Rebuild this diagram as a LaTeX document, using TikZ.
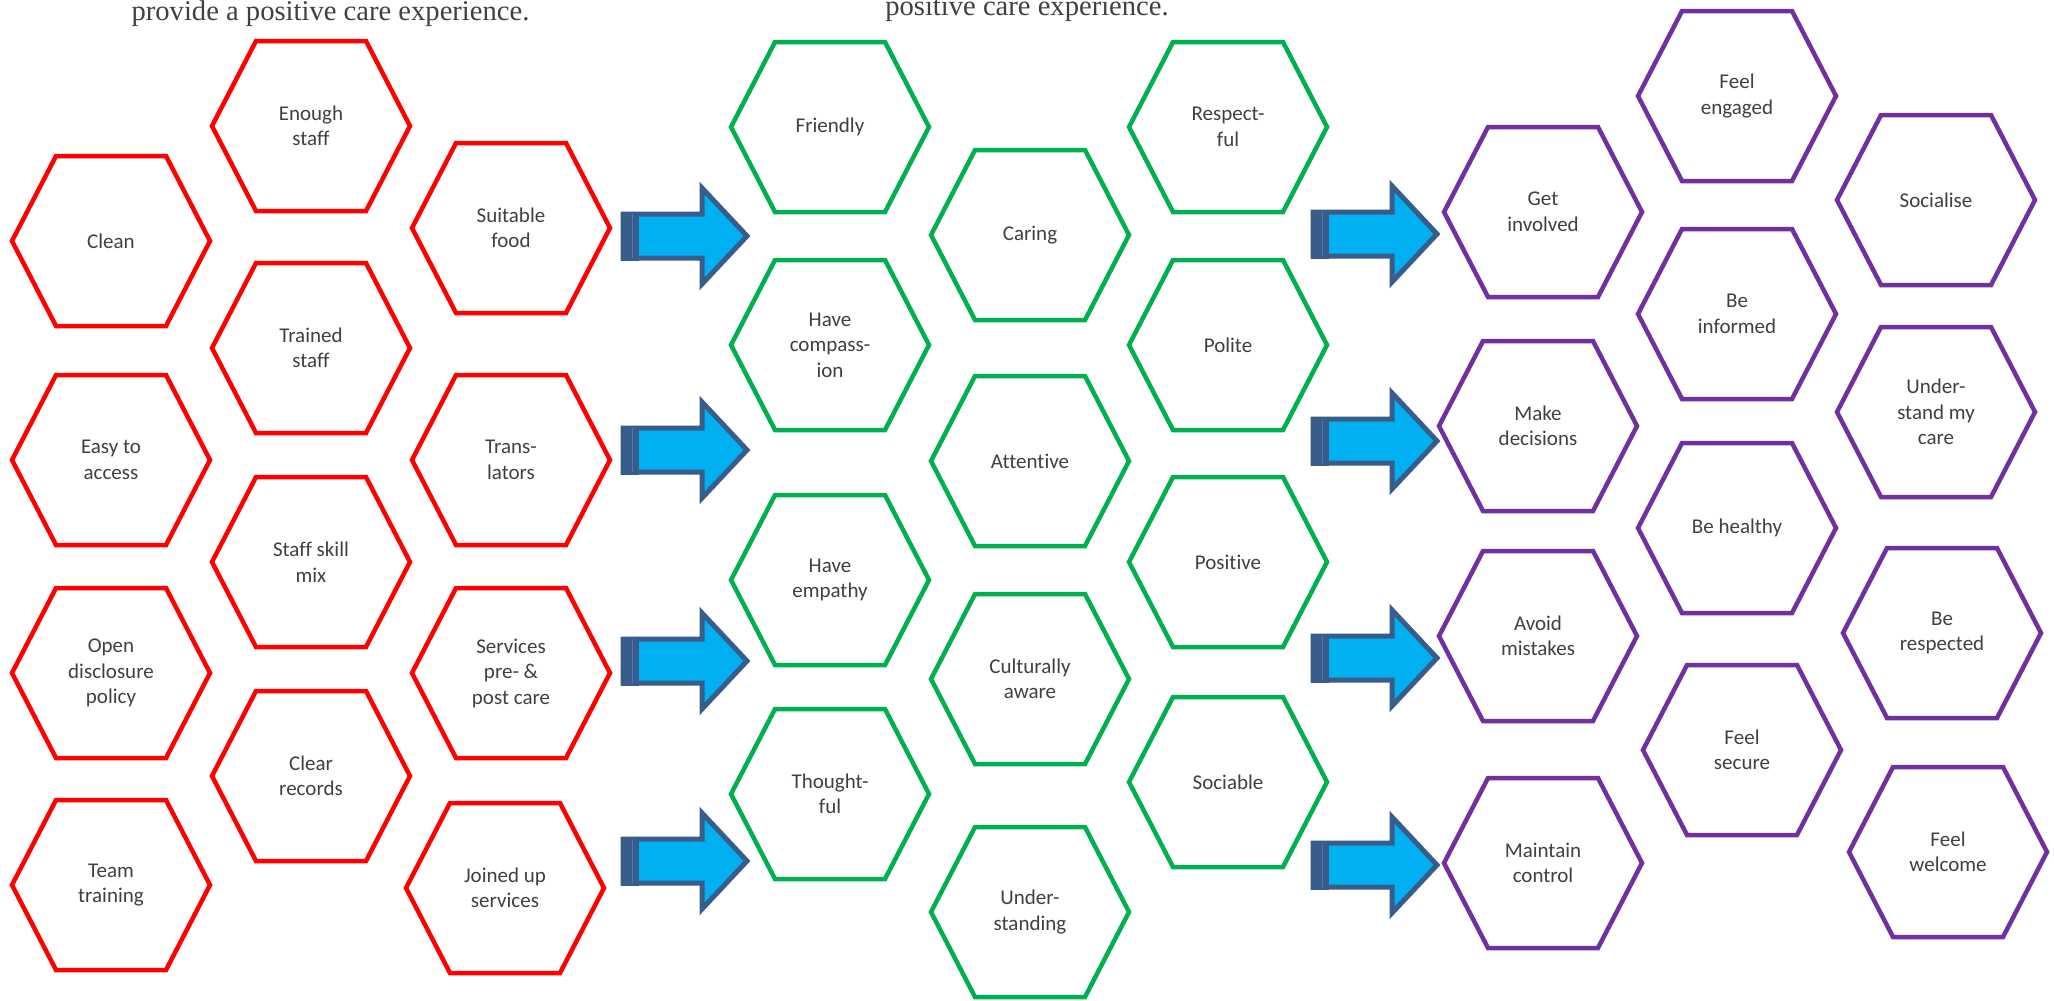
\documentclass[tikz,border=0pt]{standalone}
\usepackage{fontspec}
\setmainfont{Carlito}[Ligatures={NoCommon}]
\newfontfamily\titlefont{Liberation Serif}
\definecolor{hexred}{HTML}{FF0000}
\definecolor{hexgreen}{HTML}{00B050}
\definecolor{hexpurple}{HTML}{7030A0}
\definecolor{txtgray}{HTML}{404040}
\definecolor{arrblue}{HTML}{00B0F0}
\definecolor{arrdark}{HTML}{385D8A}
\definecolor{arrmid}{HTML}{4F78AC}
\tikzset{
  hexline/.style={line width=4.5pt, line join=miter},
  red/.style={draw=hexred},
  green/.style={draw=hexgreen},
  purple/.style={draw=hexpurple},
  hextext/.style={text=txtgray, align=center, font=\fontsize{21}{25.5}\selectfont, inner sep=0pt},
  titletext/.style={text=txtgray, anchor=base, inner sep=0pt, font=\titlefont\fontsize{28.6}{34}\selectfont},
  arrowbody/.style={fill=arrblue, draw=arrdark, line width=5pt, line join=miter},
}
\newcommand\hexcell[5]{%
  \draw[hexline,#4,shift={(#2,#3)}] (-99,0) -- (-55,-85) -- (55,-85) -- (99,0) -- (55,85) -- (-55,85) -- cycle;
  \node[hextext] (#1) at (#2,#3) {#5};}
\newcommand\blockarr[3]{%
  \begin{scope}[shift={(#2,#3)}]
    \filldraw[arrowbody] (0,-22) -- (79,-22) -- (79,-48) -- (124,0) -- (79,48) -- (79,22) -- (0,22) -- cycle;
    \fill[arrdark] (-2.5,-24.5) rectangle (16,24.5);
    \draw[arrmid, line width=0.8pt] (9.5,-22) -- (9.5,22);
    \coordinate (#1) at (124,0);
  \end{scope}}
\begin{document}
\begin{tikzpicture}[x=1pt,y=-1pt]
\useasboundingbox (0,0) rectangle (2054,1001);
\fill[white] (0,0) rectangle (2054,1001);
% titles (partly cut off at the top, as in the reference)
\node[titletext] (t1) at (330.5,20.7) {provide a positive care experience.};
\node[titletext] (t2) at (1027,15) {positive care experience.};
% red column
\hexcell{clean}{111}{241}{red}{Clean}
\hexcell{easy}{111}{460}{red}{Easy to\\access}
\hexcell{open}{111}{673}{red}{Open\\disclosure\\policy}
\hexcell{team}{111}{885}{red}{Team\\training}
\hexcell{enough}{311}{126}{red}{Enough\\staff}
\hexcell{trained}{311}{348}{red}{Trained\\staff}
\hexcell{skill}{311}{562}{red}{Staff skill\\mix}
\hexcell{records}{311}{776}{red}{Clear\\records}
\hexcell{food}{511}{228}{red}{Suitable\\food}
\hexcell{transl}{511}{460}{red}{Trans-\\lators}
\hexcell{services}{511}{673}{red}{Services\\pre- \&\\post care}
\hexcell{joined}{505}{888}{red}{Joined up\\services}
% green column
\hexcell{friendly}{830}{127}{green}{Friendly}
\hexcell{compassion}{830}{345}{green}{Have\\compass-\\ion}
\hexcell{empathy}{830}{580}{green}{Have\\empathy}
\hexcell{thoughtful}{830}{794}{green}{Thought-\\ful}
\hexcell{caring}{1030}{235}{green}{Caring}
\hexcell{attentive}{1030}{461}{green}{Attentive}
\hexcell{cultural}{1030}{679}{green}{Culturally\\aware}
\hexcell{understanding}{1030}{912}{green}{Under-\\standing}
\hexcell{respectful}{1228}{127}{green}{Respect-\\ful}
\hexcell{polite}{1228}{345}{green}{Polite}
\hexcell{positive}{1228}{562}{green}{Positive}
\hexcell{sociable}{1228}{782}{green}{Sociable}
% purple column
\hexcell{involved}{1543}{212}{purple}{Get\\involved}
\hexcell{decisions}{1538}{426}{purple}{Make\\decisions}
\hexcell{mistakes}{1538}{636}{purple}{Avoid\\mistakes}
\hexcell{control}{1543}{863}{purple}{Maintain\\control}
\hexcell{engaged}{1737}{96}{purple}{Feel\\engaged}
\hexcell{informed}{1737}{314}{purple}{Be\\informed}
\hexcell{healthy}{1737}{528}{purple}{Be healthy}
\hexcell{secure}{1742}{750}{purple}{Feel\\secure}
\hexcell{socialise}{1936}{200}{purple}{Socialise}
\hexcell{understand}{1936}{412}{purple}{Under-\\stand my\\care}
\hexcell{respected}{1942}{633}{purple}{Be\\respected}
\hexcell{welcome}{1948}{852}{purple}{Feel\\welcome}
% block arrows
\blockarr{a1}{623}{236}
\blockarr{a2}{623}{450}
\blockarr{a3}{623}{661}
\blockarr{a4}{623}{861}
\blockarr{b1}{1313}{234}
\blockarr{b2}{1313}{441}
\blockarr{b3}{1313}{658}
\blockarr{b4}{1313}{865}
\end{tikzpicture}
\end{document}
